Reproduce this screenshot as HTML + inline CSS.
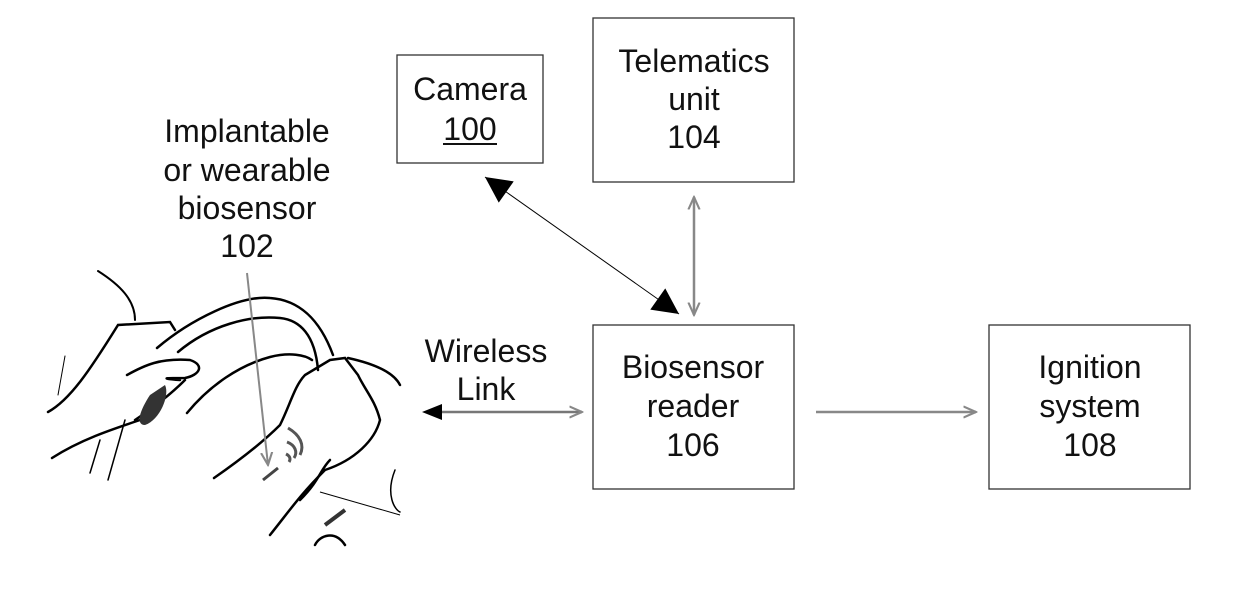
<!DOCTYPE html>
<html><head><style>
body{margin:0;background:#fff;}
svg{display:block}
text{font-family:"Liberation Sans",Arial,sans-serif;font-size:32px;fill:#111;text-anchor:middle}
</style></head><body>
<svg width="1240" height="608" viewBox="0 0 1240 608">
<defs>
<marker id="big" viewBox="0 0 10 10" refX="10" refY="5" markerWidth="30" markerHeight="26" markerUnits="userSpaceOnUse" orient="auto-start-reverse"><path d="M0,0L10,5L0,10z" fill="#000"/></marker>
<marker id="gr" viewBox="0 0 10 10" refX="9" refY="5" markerWidth="14" markerHeight="14" markerUnits="userSpaceOnUse" orient="auto-start-reverse"><path d="M0,1L9,5L0,9" fill="none" stroke="#888" stroke-width="1.5"/></marker>
</defs>
<g fill="none" stroke="#333" stroke-width="1.3">
<rect x="397" y="55" width="146" height="108"/>
<rect x="593" y="18" width="201" height="164"/>
<rect x="593" y="325" width="201" height="164"/>
<rect x="989" y="325" width="201" height="164"/>
</g>
<text x="470" y="100">Camera</text>
<text x="470" y="140">100</text>
<line x1="443" y1="144" x2="497" y2="144" stroke="#111" stroke-width="2"/>
<text x="694" y="72">Telematics</text>
<text x="694" y="110">unit</text>
<text x="694" y="148">104</text>
<text x="693" y="378">Biosensor</text>
<text x="693" y="417">reader</text>
<text x="693" y="456">106</text>
<text x="1090" y="378">Ignition</text>
<text x="1090" y="417">system</text>
<text x="1090" y="456">108</text>
<text x="247" y="142">Implantable</text>
<text x="247" y="181">or wearable</text>
<text x="247" y="219">biosensor</text>
<text x="247" y="257">102</text>
<text x="486" y="362">Wireless</text>
<text x="486" y="400">Link</text>
<!-- connectors -->
<line x1="485" y1="177" x2="679" y2="314" stroke="#000" stroke-width="1" marker-start="url(#big)" marker-end="url(#big)"/>
<line x1="694" y1="197" x2="694" y2="315" stroke="#888" stroke-width="2.5" marker-start="url(#gr)" marker-end="url(#gr)"/>
<line x1="440" y1="412" x2="582" y2="412" stroke="#777" stroke-width="2.5" marker-end="url(#gr)"/>
<path d="M422,412L442,404L442,420z" fill="#000"/>
<line x1="816" y1="412" x2="976" y2="412" stroke="#888" stroke-width="2.5" marker-end="url(#gr)"/>
<!-- hand/steering wheel sketch -->
<g fill="none" stroke="#000" stroke-width="2.5" stroke-linecap="round">
<path d="M157,348 C190,320 240,295 270,298 C300,300 320,320 333,355"/>
<path d="M178,352 C210,325 250,315 280,318 C300,320 315,335 318,370"/>
<path d="M187,413 C210,385 240,365 270,357 C290,352 305,355 312,360"/>
<path d="M48,412 C70,400 90,370 118,325 L170,322 L175,330"/>
<path d="M127,375 C145,365 160,358 190,360 C205,365 200,375 185,378 C170,378 155,378 180,380"/>
<path d="M185,380 C170,395 150,410 135,420"/>
<path d="M52,458 C80,440 110,430 140,420"/>
<path d="M98,271 C120,285 135,300 135,320" stroke-width="2"/>
<path d="M214,478 C240,460 265,440 280,425 C290,405 295,385 305,375 L330,360 L345,358 L358,375 C365,390 375,400 380,420 C375,440 355,460 325,470 C300,495 290,510 270,535"/>
<path d="M300,500 C320,480 320,470 330,460"/>
<path d="M348,358 C380,365 395,375 400,385"/>
<path d="M395,470 C385,495 395,510 400,512" stroke-width="1.5"/>
<path d="M315,545 C320,535 335,530 345,545" />
<path d="M65,356 L58,395" stroke-width="1"/>
<path d="M90,473 L100,440" stroke-width="1.5"/>
<path d="M108,480 L125,420" stroke-width="1.5"/>
</g>
<path d="M150,395 C140,410 135,425 145,425 C160,420 170,395 165,385 z" fill="#333"/>
<path d="M325,525 L345,510" stroke="#333" stroke-width="4"/>
<path d="M320,492 L400,515" stroke="#000" stroke-width="1"/>
<g fill="none" stroke="#555" stroke-width="3">
<path d="M288,428 C300,435 305,445 300,455"/>
<path d="M287,442 C295,445 298,452 294,458"/>
<path d="M286,454 C290,456 291,459 289,462"/>
</g>
<line x1="247" y1="273" x2="268" y2="465" stroke="#888" stroke-width="2" marker-end="url(#gr)"/>
<path d="M263,480 L278,468" stroke="#444" stroke-width="3"/>
</svg>
</body></html>
